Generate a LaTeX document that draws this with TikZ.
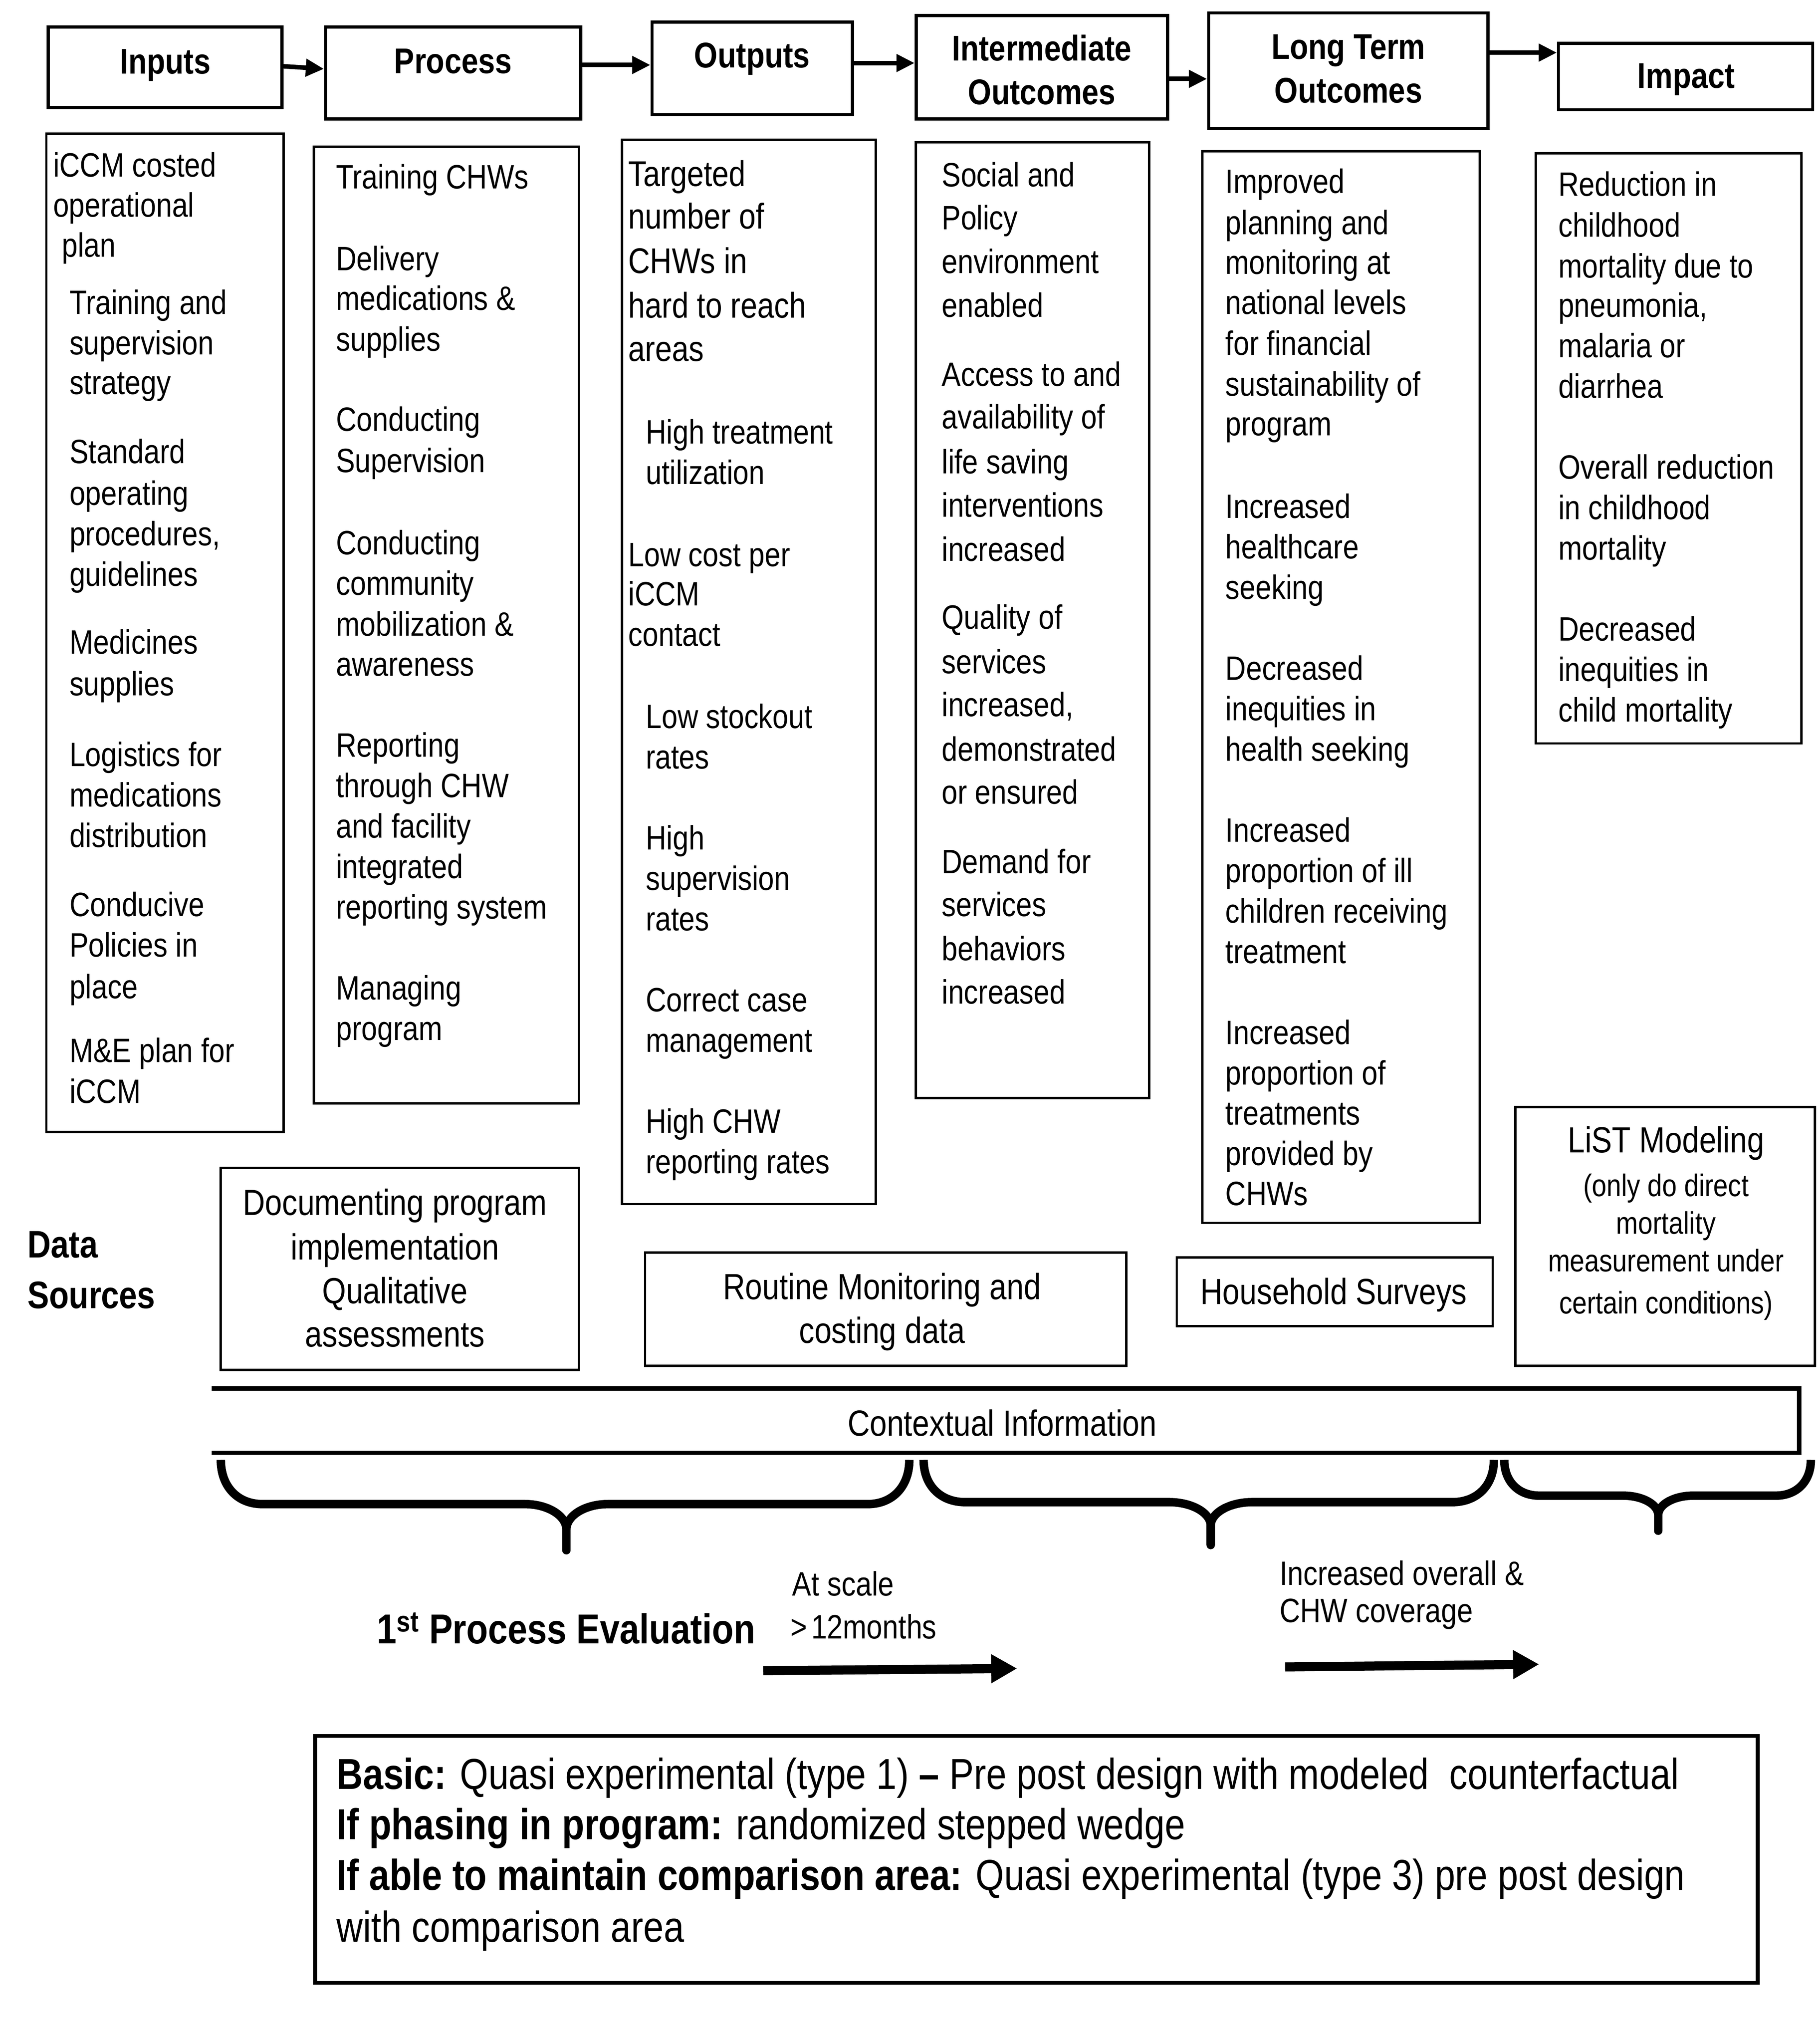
\documentclass[tikz,border=0pt]{standalone}
\usepackage{fontspec}
\setmainfont{Liberation Sans}[FakeStretch=0.845]
\usetikzlibrary{arrows.meta}
\newcommand\curlybrace[7]{%
\draw[bracestyle] (#1,#4) .. controls (#1,{#4+0.6*(#5-#4)}) and ({#1+0.4*#7},#5) .. ({#1+#7},#5)
 -- ({#3-#7},#5) .. controls ({#3-0.45*#7},#5) and (#3,{#5+0.25*(#6-#5)}) .. (#3,{#5+0.55*(#6-#5)}) -- (#3,#6)
 -- (#3,{#5+0.55*(#6-#5)}) .. controls (#3,{#5+0.25*(#6-#5)}) and ({#3+0.45*#7},#5) .. ({#3+#7},#5)
 -- ({#2-#7},#5) .. controls ({#2-0.4*#7},#5) and (#2,{#4+0.6*(#5-#4)}) .. (#2,#4);}
\begin{document}
\begin{tikzpicture}[x=1pt,y=-1pt,
  hbox/.style={draw,line width=2.4pt,inner sep=0pt},
  cbox/.style={draw,line width=1.8pt,inner sep=0pt},
  bbox/.style={draw,line width=3pt,inner sep=0pt},
  htext/.style={font=\fontsize{27.5}{33}\selectfont\bfseries,inner sep=0pt,anchor=base},
  body/.style={font=\fontsize{26}{31}\selectfont,inner sep=0pt,anchor=base west},
  bodyL/.style={font=\fontsize{27.5}{33}\selectfont,inner sep=0pt,anchor=base west},
  dtext/.style={font=\fontsize{28}{33}\selectfont,inner sep=0pt,anchor=base},
  stext/.style={font=\fontsize{24}{29}\selectfont,inner sep=0pt,anchor=base},
  dstitle/.style={font=\fontsize{29.5}{36}\selectfont\bfseries,inner sep=0pt,anchor=base west},
  evtext/.style={font=\fontsize{32.2}{36}\selectfont\bfseries,inner sep=0pt,anchor=base west},
  btext/.style={font=\fontsize{33.3}{40}\selectfont,inner sep=0pt,anchor=base west},
  harrow/.style={line width=3.5pt,-{Triangle[length=14pt,width=13pt]}},
  bigarrow/.style={line width=7pt,-{Triangle[length=20pt,width=21pt]}},
  bracestyle/.style={line width=6.5pt,line join=round},
  ctxbar/.style={line width=3.3pt}
]
\fill[white] (0,0) rectangle (1400,1573);

% ---------- header boxes ----------
\node[hbox,minimum width=179.9pt,minimum height=62.1pt] (hIn) at (127.15,51.75) {};
\node[hbox,minimum width=196.5pt,minimum height=70.9pt] (hPr) at (348.85,56.15) {};
\node[hbox,minimum width=154.4pt,minimum height=71.2pt] (hOut) at (579.1,52.6) {};
\node[hbox,minimum width=193.5pt,minimum height=79.6pt] (hInt) at (802.05,51.8) {};
\node[hbox,minimum width=215.1pt,minimum height=89.1pt] (hLT) at (1037.95,54.45) {};
\node[hbox,minimum width=195.7pt,minimum height=51.2pt] (hImp) at (1297.55,58.9) {};

\node[htext] (tIn) at (127.2,56.8) {Inputs};
\node[htext] (tPr) at (348.8,56.4) {Process};
\node[htext] (tOut) at (579,52) {Outputs};
\node[htext] (tInt1) at (802,46.6) {Intermediate};
\node[htext] (tInt2) at (802,80.3) {Outcomes};
\node[htext] (tLT1) at (1038,45.6) {Long Term};
\node[htext] (tLT2) at (1038,79.2) {Outcomes};
\node[htext] (tImp) at (1298,67.7) {Impact};

\draw[harrow] ([yshift=0.75pt]hIn.east) -- ([yshift=3.15pt]hPr.west);
\draw[harrow] ([yshift=6.15pt]hPr.east) -- ([yshift=2.6pt]hOut.west);
\draw[harrow] ([yshift=4.1pt]hOut.east) -- ([yshift=3.3pt]hInt.west);
\draw[harrow] ([yshift=-8.9pt]hInt.east) -- ([yshift=-6.25pt]hLT.west);
\draw[harrow] ([yshift=13.95pt]hLT.east) -- ([yshift=18.4pt]hImp.west);

% ---------- content boxes ----------
\node[cbox,minimum width=182.6pt,minimum height=768.2pt] (cIn) at (127,487) {};
\node[cbox,minimum width=203.9pt,minimum height=736.2pt] (cPr) at (343.65,481) {};
\node[cbox,minimum width=195.2pt,minimum height=819pt] (cOut) at (576.5,517.1) {};
\node[cbox,minimum width=179.7pt,minimum height=735.7pt] (cInt) at (794.85,477.25) {};
\node[cbox,minimum width=213.5pt,minimum height=824.8pt] (cLT) at (1032.35,528.7) {};
\node[cbox,minimum width=204.4pt,minimum height=454.1pt] (cImp) at (1284.5,345.05) {};

\foreach \xx/\yy/\mytext [count=\k] in {40.7/136.2/iCCM costed, 40.7/167/operational, 47.4/197.8/plan,
  53.3/241.9/Training and, 53.3/272.9/supervision, 53.3/303.3/strategy,
  53.3/356.6/Standard, 53.3/388.7/operating, 53.3/419.8/{procedures,}, 53.3/451/guidelines,
  53.3/503.2/Medicines, 53.3/535.4/supplies,
  53.3/589.6/Logistics for, 53.3/620.7/medications, 53.3/651.9/distribution,
  53.3/705.1/Conducive, 53.3/736.3/Policies in, 53.3/768.4/place,
  53.3/817.6/M\&E plan for, 53.3/848.8/iCCM}
  \node[body] (inp\k) at (\xx,\yy) {\mytext};

\foreach \yy/\mytext [count=\k] in {145.3/Training CHWs,
  208.2/Delivery, 238.6/medications \&, 270/supplies,
  331.9/Conducting, 363.6/Supervision,
  426.9/Conducting, 458/community, 489.2/mobilization \&, 520.3/awareness,
  582.6/Reporting, 613.7/through CHW, 644.9/and facility, 676/integrated, 707.1/reporting system,
  769.4/Managing, 800.6/program}
  \node[body] (prc\k) at (258.5,\yy) {\mytext};

\foreach \yy/\mytext [count=\k] in {143.2/Targeted, 176.1/number of, 210.4/CHWs in, 244.7/hard to reach, 278/areas}
  \node[bodyL] (outa\k) at (483.5,\yy) {\mytext};
\foreach \xx/\yy/\mytext [count=\k] in {497/341.5/High treatment, 497/372.6/utilization,
  483.5/435.9/Low cost per, 483.5/466/iCCM, 483.5/497.2/contact,
  497/560.5/Low stockout, 497/591.6/rates,
  497/653.9/High, 497/685/supervision, 497/716.2/rates,
  497/778.5/Correct case, 497/809.6/management,
  497/871.9/High CHW, 497/903/reporting rates}
  \node[body] (outb\k) at (\xx,\yy) {\mytext};

\foreach \yy/\mytext [count=\k] in {143.6/Social and, 176.8/Policy, 210.4/environment, 244/enabled,
  297.2/Access to and, 330/availability of, 364.6/life saving, 397.7/interventions, 431.9/increased,
  484.1/Quality of, 518.3/services, 551.4/{increased,}, 585.6/demonstrated, 618.7/or ensured,
  672/Demand for, 705.1/services, 739.3/behaviors, 772.4/increased}
  \node[body] (int\k) at (724.8,\yy) {\mytext};

\foreach \yy/\mytext [count=\k] in {148.8/Improved, 180.5/planning and, 210.8/monitoring at,
  241.9/national levels, 273.3/for financial, 304.8/sustainability of, 335.1/program,
  398.8/Increased, 429.9/healthcare, 461/seeking,
  523.3/Decreased, 554.4/inequities in, 585.6/health seeking,
  647.9/Increased, 679/proportion of ill, 710.1/children receiving, 741.3/treatment,
  803.6/Increased, 834.7/proportion of, 865.5/treatments, 896.8/provided by, 927.5/CHWs}
  \node[body] (lt\k) at (943.2,\yy) {\mytext};

\foreach \yy/\mytext [count=\k] in {150.8/Reduction in, 182.2/childhood, 213.7/mortality due to,
  244/{pneumonia,}, 275/malaria or, 306.3/diarrhea,
  368.6/Overall reduction, 399.8/in childhood, 430.9/mortality,
  493.2/Decreased, 524.3/inequities in, 555.5/child mortality}
  \node[body] (imp\k) at (1199.4,\yy) {\mytext};

% ---------- data sources ----------
\node[dstitle] (ds1) at (21,968) {Data};
\node[dstitle] (ds2) at (21,1007) {Sources};

\node[cbox,minimum width=275.7pt,minimum height=155.2pt] (dDoc) at (307.75,976.5) {};
\node[dtext] (doc1) at (304,935) {Documenting program};
\node[dtext] (doc2) at (304,969.4) {implementation};
\node[dtext] (doc3) at (304,1003) {Qualitative};
\node[dtext] (doc4) at (304,1036.4) {assessments};

\node[cbox,minimum width=370.5pt,minimum height=87.2pt] (dRout) at (681.85,1007.5) {};
\node[dtext] (rout1) at (679,1000) {Routine Monitoring and};
\node[dtext] (rout2) at (679,1033.6) {costing data};

\node[cbox,minimum width=243.2pt,minimum height=53pt] (dHH) at (1027.5,994.1) {};
\node[dtext] (hh1) at (1026.7,1003.8) {Household Surveys};

\node[cbox,minimum width=230.6pt,minimum height=199.2pt] (dList) at (1281.8,951.5) {};
\node[dtext] (ls1) at (1282.5,887) {LiST Modeling};
\node[stext] (ls2) at (1282.5,920.6) {(only do direct};
\node[stext] (ls3) at (1282.5,949.6) {mortality};
\node[stext] (ls4) at (1282.5,978.5) {measurement under};
\node[stext] (ls5) at (1282.5,1011) {certain conditions)};

% ---------- contextual information ----------
\draw[ctxbar] (163,1068.5) -- (1385,1068.5) -- (1385,1118) -- (163,1118);
\node[dtext] (ctx) at (771.5,1105) {Contextual Information};

% ---------- braces ----------
\curlybrace{170}{700}{436}{1123.5}{1157.5}{1193}{32}
\curlybrace{711}{1150}{932}{1123.5}{1156}{1189}{32}
\curlybrace{1158}{1394}{1276.5}{1123.5}{1151}{1178}{27}

% ---------- evaluation ----------
\node[evtext] (pe) at (290,1264.8) {1\textsuperscript{st} Process Evaluation};
\node[body] (sc1) at (609.8,1228) {At scale};
\node[body] (sc2) at (608.5,1261) {>\kern3pt12months};
\node[body] (cov1) at (984.8,1220) {Increased overall \&};
\node[body] (cov2) at (984.8,1248.4) {CHW coverage};

\coordinate (ar1s) at (587.5,1285.7);
\coordinate (ar1e) at (783,1284);
\draw[bigarrow] (ar1s) -- (ar1e);
\coordinate (ar2s) at (989.3,1282.8);
\coordinate (ar2e) at (1184.8,1280.8);
\draw[bigarrow] (ar2s) -- (ar2e);

% ---------- design box ----------
\node[bbox,minimum width=1110.5pt,minimum height=190.1pt] (design) at (797.75,1430.95) {};
\node[btext] (b1) at (259,1376.7) {\textbf{Basic:} Quasi experimental (type 1) \textbf{–} Pre post design with modeled~ counterfactual};
\node[btext] (b2) at (259,1415.5) {\textbf{If phasing in program:} randomized stepped wedge};
\node[btext] (b3) at (259,1454.4) {\textbf{If able to maintain comparison area:} Quasi experimental (type 3) pre post design};
\node[btext] (b4) at (259,1494.6) {with comparison area};
\end{tikzpicture}
\end{document}
